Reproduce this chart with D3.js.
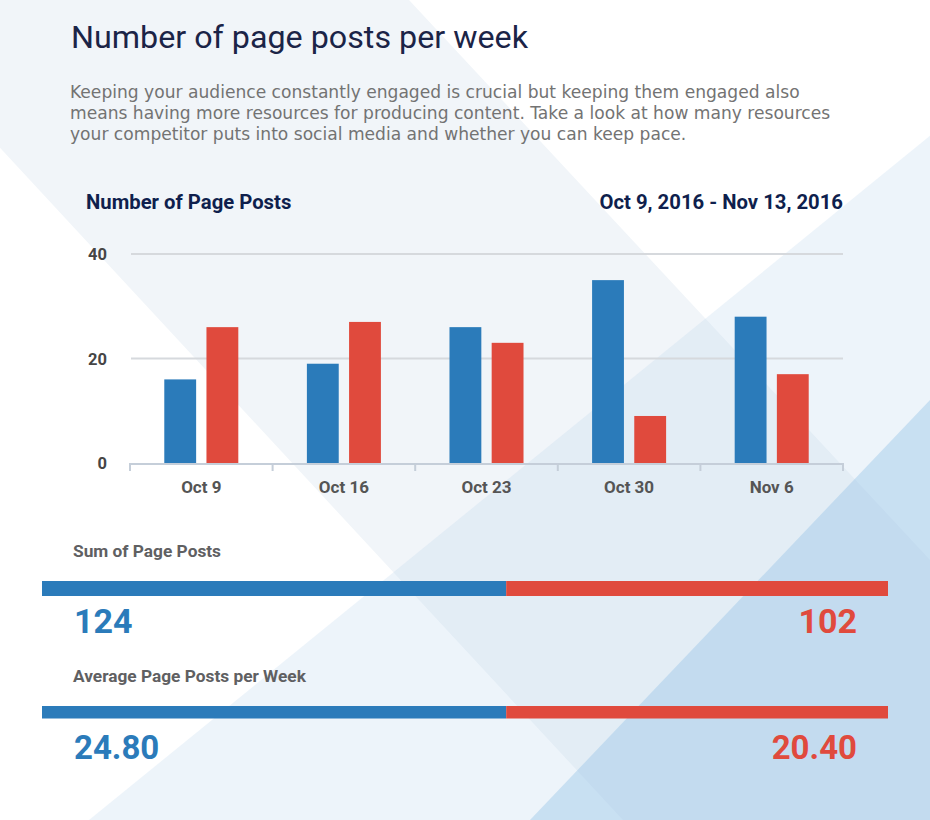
<!DOCTYPE html>
<html>
<head>
<meta charset="utf-8">
<script src="https://cdn.jsdelivr.net/npm/d3@7"></script>
<style>
  html, body { margin: 0; padding: 0; background: #ffffff; }
  svg { display: block; }
</style>
</head>
<body>
<svg id="chart" width="930" height="820"></svg>
<script>
// ---------- data ----------
const weeks = ["Oct 9", "Oct 16", "Oct 23", "Oct 30", "Nov 6"];
const seriesKeys = ["page", "competitor"];
const blueValues = [16, 19, 26, 35, 28];
const redValues = [26, 27, 23, 9, 17];
const yTicks = [0, 20, 40];
const titleText = "Number of page posts per week";
const introLines = [
  "Keeping your audience constantly engaged is crucial but keeping them engaged also",
  "means having more resources for producing content. Take a look at how many resources",
  "your competitor puts into social media and whether you can keep pace."
];
const chartTitle = "Number of Page Posts";
const dateRange = "Oct 9, 2016 - Nov 13, 2016";
const summaryLabels = ["Sum of Page Posts", "Average Page Posts per Week"];

const BLUE = "#2b7bba", RED = "#e04a3d";

const svg = d3.select("#chart");

// ---------- background geometry ----------
const bg = svg.append("g");
bg.append("rect").attr("width", 930).attr("height", 820).attr("fill", "#ffffff");
bg.append("polygon")
  .attr("points", "-137,0 409,0 930,560 930,820 623,820")
  .attr("fill", "#f1f5f9");
bg.append("polygon")
  .attr("points", "1097,0 1300,0 1300,820 89,820")
  .attr("fill", "rgb(190,215,238)").attr("fill-opacity", 0.28);
bg.append("polygon")
  .attr("points", "930,400 930,820 530,820")
  .attr("fill", "rgb(150,195,230)").attr("fill-opacity", 0.42);

// ---------- header text ----------
svg.append("text")
  .attr("x", 71).attr("y", 48)
  .attr("font-family", "Roboto, sans-serif")
  .attr("font-size", 31).attr("fill", "#1b2447")
  .attr("textLength", 457).attr("lengthAdjust", "spacingAndGlyphs")
  .text(titleText);

svg.append("g").selectAll("text").data(introLines).join("text")
  .attr("x", 70).attr("y", (d, i) => 98 + i * 21)
  .attr("font-family", "'DejaVu Sans', sans-serif")
  .attr("font-size", 17.1).attr("fill", "#737373")
  .text(d => d);

svg.append("text")
  .attr("x", 86).attr("y", 209)
  .attr("font-family", "Roboto, sans-serif").attr("font-weight", 700)
  .attr("font-size", 20.3).attr("fill", "#0f1f4d")
  .text(chartTitle);

svg.append("text")
  .attr("x", 843).attr("y", 209).attr("text-anchor", "end")
  .attr("font-family", "Roboto, sans-serif").attr("font-weight", 700)
  .attr("font-size", 20.3).attr("fill", "#0f1f4d")
  .text(dateRange);

// ---------- bar chart ----------
const x0 = d3.scaleBand().domain(weeks).range([130, 843]).paddingInner(0).paddingOuter(0);
const x1 = d3.scaleBand().domain(seriesKeys).range([0, x0.bandwidth()])
  .paddingInner(0.245).paddingOuter(0.813);
const y = d3.scaleLinear().domain([0, 40]).range([463, 254]);

// grid lines
const grid = svg.append("g");
grid.selectAll("line").data(yTicks.filter(t => t > 0)).join("line")
  .attr("x1", 131).attr("x2", 843)
  .attr("y1", d => y(d)).attr("y2", d => y(d))
  .attr("stroke", "#d6d9dd").attr("stroke-width", 2);

// y labels
const yAxis = d3.axisLeft(y).tickValues(yTicks).tickSize(0).tickPadding(0);
const gy = svg.append("g").attr("transform", "translate(107,0)").call(yAxis);
gy.select(".domain").remove();
gy.selectAll("text")
  .attr("font-family", "Roboto, sans-serif").attr("font-weight", 700)
  .attr("font-size", 16.5).attr("fill", "#454545")
  .attr("dy", "0.36em");

// bars
const rows = weeks.map((w, i) => ({ week: w, page: blueValues[i], competitor: redValues[i] }));
const colors = { page: BLUE, competitor: RED };
svg.append("g").selectAll("g").data(rows).join("g")
  .attr("transform", d => `translate(${x0(d.week)},0)`)
  .selectAll("rect")
  .data(d => seriesKeys.map(k => ({ key: k, value: d[k] })))
  .join("rect")
  .attr("x", d => x1(d.key))
  .attr("width", x1.bandwidth())
  .attr("y", d => y(d.value))
  .attr("height", d => y(0) - y(d.value))
  .attr("fill", d => colors[d.key]);

// x axis
const boundaries = weeks.map(w => x0(w)).concat([x0.range()[1]]);
const gx = svg.append("g");
gx.append("line")
  .attr("x1", 130).attr("x2", 843).attr("y1", y(0) + 1).attr("y2", y(0) + 1)
  .attr("stroke", "#c5ced9").attr("stroke-width", 2);
gx.selectAll("line.tick").data(boundaries).join("line").attr("class", "tick")
  .attr("x1", d => d).attr("x2", d => d)
  .attr("y1", y(0)).attr("y2", y(0) + 8)
  .attr("stroke", "#c5ced9").attr("stroke-width", 2);
gx.selectAll("text").data(weeks).join("text")
  .attr("x", d => x0(d) + x0.bandwidth() / 2).attr("y", 493)
  .attr("text-anchor", "middle")
  .attr("font-family", "Roboto, sans-serif").attr("font-weight", 700)
  .attr("font-size", 17).attr("fill", "#555555")
  .text(d => d);

// ---------- summary bars ----------
const sums = [d3.sum(blueValues), d3.sum(redValues)];
const means = [d3.mean(blueValues), d3.mean(redValues)];
const summaries = [
  { label: summaryLabels[0], values: sums, fmt: d3.format("d"), labelY: 557, barY: 581, barH: 15, numY: 633, numSize: 34 },
  { label: summaryLabels[1], values: means, fmt: d3.format(".2f"), labelY: 682, barY: 706, barH: 12.5, numY: 759, numSize: 33 }
];

summaries.forEach(s => {
  const g = svg.append("g");
  const sx = d3.scaleLinear().domain([0, s.values[0] + s.values[1]]).range([42, 888]);
  g.append("text")
    .attr("x", 73).attr("y", s.labelY)
    .attr("font-family", "Roboto, sans-serif").attr("font-weight", 700)
    .attr("font-size", 17.3).attr("fill", "#5f6062")
    .text(s.label);
  g.append("rect")
    .attr("x", sx(0)).attr("width", sx(s.values[0]) - sx(0))
    .attr("y", s.barY).attr("height", s.barH).attr("fill", BLUE);
  g.append("rect")
    .attr("x", sx(s.values[0])).attr("width", sx(s.values[0] + s.values[1]) - sx(s.values[0]))
    .attr("y", s.barY).attr("height", s.barH).attr("fill", RED);
  g.append("text")
    .attr("x", 74).attr("y", s.numY)
    .attr("font-family", "Roboto, sans-serif").attr("font-weight", 700)
    .attr("font-size", s.numSize).attr("fill", BLUE)
    .text(s.fmt(s.values[0]));
  g.append("text")
    .attr("x", 857).attr("y", s.numY).attr("text-anchor", "end")
    .attr("font-family", "Roboto, sans-serif").attr("font-weight", 700)
    .attr("font-size", s.numSize).attr("fill", RED)
    .text(s.fmt(s.values[1]));
});
</script>
</body>
</html>
